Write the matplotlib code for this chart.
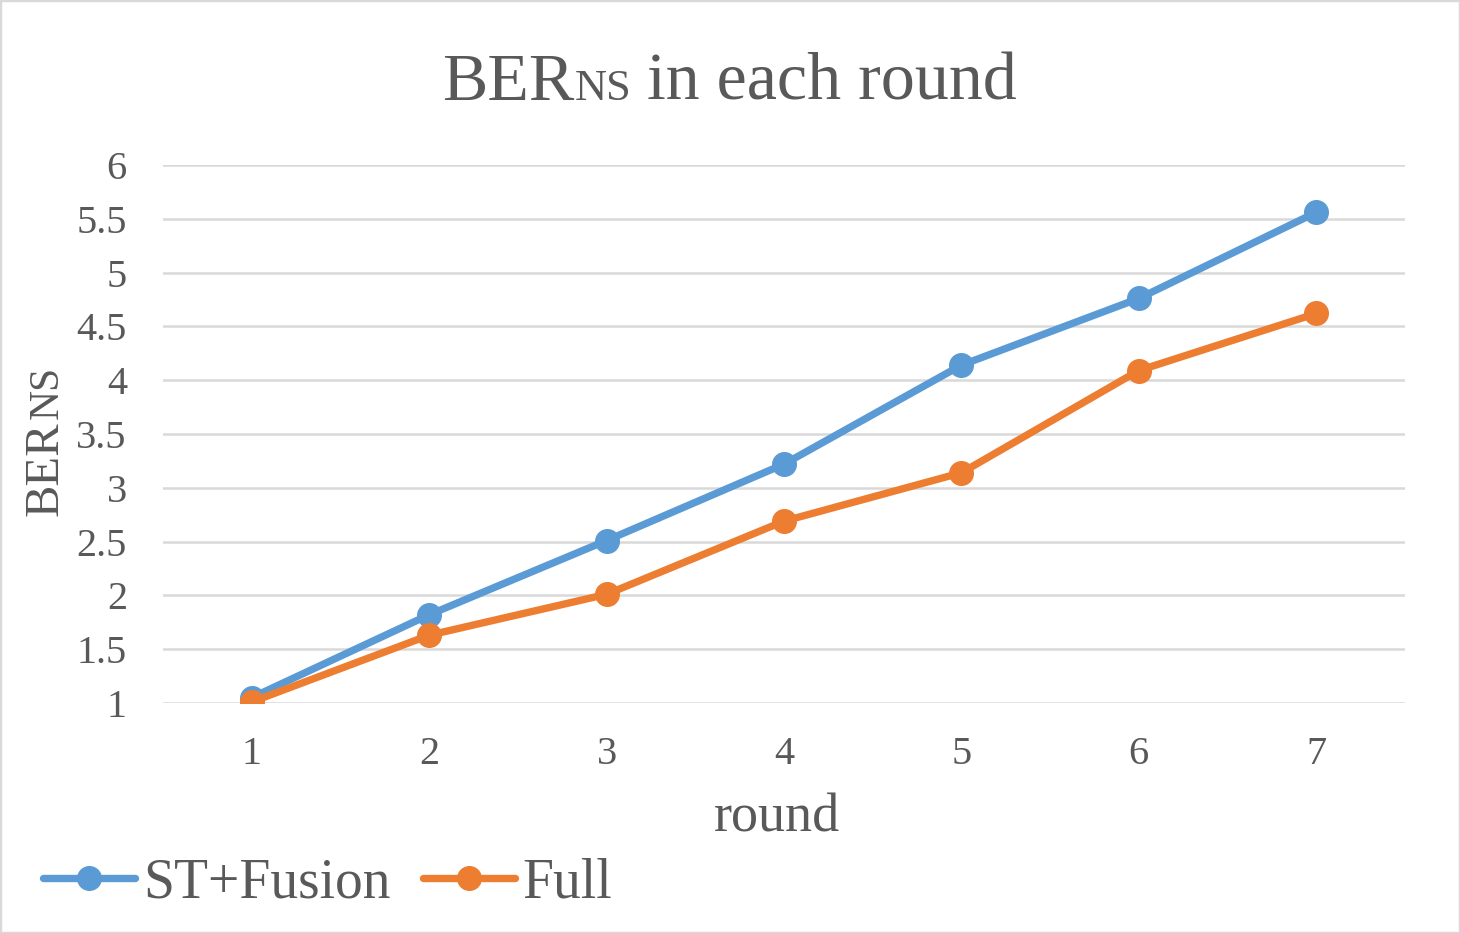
import matplotlib
matplotlib.use("Agg")
import matplotlib.pyplot as plt
from matplotlib.patches import Rectangle

rounds = [1, 2, 3, 4, 5, 6, 7]
st_fusion = [1.05, 1.82, 2.51, 3.22, 4.14, 4.76, 5.56]
full = [1.01, 1.63, 2.01, 2.69, 3.14, 4.09, 4.62]
series_names = ["ST+Fusion", "Full"]
yticks = [1, 1.5, 2, 2.5, 3, 3.5, 4, 4.5, 5, 5.5, 6]

BLUE = "#5B9BD5"
ORANGE = "#ED7D31"
TXT = "#595959"
GRID = "#D9D9D9"
FONT = "Liberation Serif"

plt.rcParams["font.family"] = [FONT, "DejaVu Serif"]

W, H = 1460, 933
fig = plt.figure(figsize=(W / 100, H / 100), dpi=100)
fig.patch.set_facecolor("white")

left, right, top, bottom = 163, 1405, 165, 703
ax = fig.add_axes([left / W, 1 - bottom / H, (right - left) / W, (bottom - top) / H])

for vals, col, name in [(st_fusion, BLUE, series_names[0]), (full, ORANGE, series_names[1])]:
    ax.plot(rounds, vals, color=col, lw=5.3, marker="o", ms=17, label=name,
            solid_capstyle="round", solid_joinstyle="round", zorder=3)

ax.set_xlim(0.5, 7.5)
ax.set_ylim(1, 6)
ax.set_yticks(yticks)
ax.set_yticklabels([f"{v:g}" for v in yticks])
ax.set_xticks(rounds)
ax.set_xticklabels([str(r) for r in rounds])
ax.grid(axis="y", color=GRID, lw=1.8, zorder=0)
ax.set_axisbelow(True)
for s in ax.spines.values():
    s.set_visible(False)
ax.tick_params(axis="both", length=0, labelsize=29, labelcolor=TXT)
ax.tick_params(axis="y", pad=26)
ax.tick_params(axis="x", pad=24)
for lab in ax.get_xticklabels() + ax.get_yticklabels():
    lab.set_fontfamily(FONT)
ax.set_xlabel("round", fontsize=39, color=TXT, labelpad=14)
ax.xaxis.label.set_x((777 - left) / (right - left))

leg = ax.legend(loc="center left", bbox_to_anchor=(43 / W, 1 - 883 / H),
                bbox_transform=fig.transFigure, frameon=False, ncol=2,
                fontsize=40, borderpad=0, borderaxespad=0,
                handlelength=1.66, handletextpad=0.14, columnspacing=0.58)
for t in leg.get_texts():
    t.set_color(TXT)

# Title with small "NS"
t1 = fig.text(442 / W, 1 - 100 / H, "BER", fontsize=49, color=TXT, ha="left", va="baseline")
t3 = fig.text(1017 / W, 1 - 100 / H, "in each round", fontsize=49, color=TXT, ha="right", va="baseline")
fig.canvas.draw()
r = fig.canvas.get_renderer()
bb = t1.get_window_extent(r)
fig.text(bb.x1 / W + 1 / W, 1 - 100 / H, "NS", fontsize=32, color=TXT, ha="left", va="baseline")

# Y label with small "NS"
y1 = fig.text(58 / W, 1 - 516 / H, "BER", fontsize=35, color=TXT, rotation=90,
              rotation_mode="anchor", ha="left", va="baseline")
fig.canvas.draw()
bb = y1.get_window_extent(r)
fig.text(58 / W, (bb.y1 + 2) / H, "NS", fontsize=30, color=TXT, rotation=90,
         rotation_mode="anchor", ha="left", va="baseline")

fig.add_artist(Rectangle((0, 0), 1, 1, transform=fig.transFigure, fill=False,
                         edgecolor=GRID, lw=2.5, zorder=10))

fig.savefig("out.png", dpi=100)
